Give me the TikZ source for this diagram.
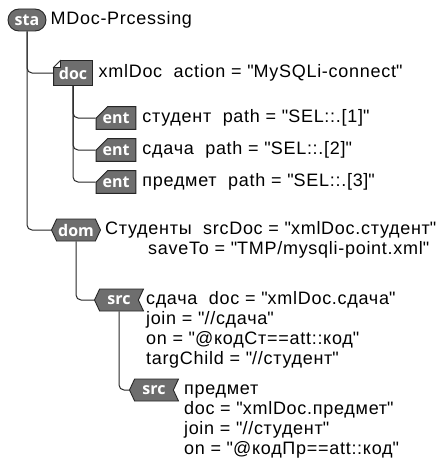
\documentclass[tikz,border=0pt]{standalone}
\usepackage{fontspec}
\setmainfont{Liberation Sans}[LetterSpace=4]
\newfontfamily\tagfont{Open Sans}
\usepackage{tikz}
\usetikzlibrary{positioning,shapes.misc,shapes.symbols,backgrounds}

% straight double quote, loaded without the TeX mapping
\font\dqfont="Liberation Sans" at 18pt
\newcommand{\dq}{{\dqfont\char34}}

\begin{document}
\begin{tikzpicture}[x=1pt, y=-1pt,
  tag/.style    = {draw=black!85, fill=black!57, text=white, line width=0.9pt,
                   minimum height=22pt, inner xsep=1pt, inner ysep=0pt,
                   font=\tagfont\bfseries\fontsize{16}{16}\selectfont},
  statag/.style = {tag, rounded rectangle, minimum width=40pt},
  doctag/.style = {tag, rectangle, draw=none, fill=none, minimum width=38pt,
                   minimum height=24pt},
  enttag/.style = {tag, chamfered rectangle, chamfered rectangle corners=north west,
                   chamfered rectangle sep=6pt, minimum width=37pt},
  domtag/.style = {tag, signal, signal to=west and east, signal pointer angle=130,
                   minimum width=49pt},
  srctag/.style = {tag, signal, signal to=west, signal from=east,
                   signal pointer angle=130, minimum width=49pt},
  docbox/.style = {draw=black!85, fill=black!57, line width=0.9pt},
  fold/.style   = {draw=black!85, line width=0.8pt, fill=white},
  lbl/.style    = {anchor=north west, inner sep=0pt, align=left, yshift=-2pt,
                   font=\fontsize{18}{20}\selectfont},
  conn/.style   = {draw=black!85, line width=1pt, rounded corners=5pt}
]
\useasboundingbox (0,0) rectangle (440,460);

% -- tags --
\node[statag] (sta)  at (27,20)   {sta};
\node[doctag] (doc)  at (73,73)   {doc};
\node[enttag] (ent1) at (116,118) {ent};
\node[enttag] (ent2) at (116,150) {ent};
\node[enttag] (ent3) at (116,182) {ent};
\node[domtag] (dom)  at (76,230)  {dom};
\node[srctag] (src1) at (119,300) {src};
\node[srctag] (src2) at (154,390) {src};

% -- doc box with folded corner --
\begin{scope}[on background layer]
  \filldraw[docbox] ([xshift=7pt]doc.north west) -- (doc.north east)
    -- (doc.south east) -- (doc.south west) -- ([yshift=-7pt]doc.north west) -- cycle;
  \filldraw[fold] ([xshift=7pt]doc.north west) -- ([yshift=-7pt]doc.north west)
    -- ([shift={(7pt,-7pt)}]doc.north west) -- cycle;
\end{scope}

% -- texts --
\node[lbl, xshift=4pt]  (staLbl)  at (sta.east |- sta.north)   {\strut MDoc-Prcessing};
\node[lbl, xshift=6pt, yshift=-1pt] (docLbl) at (doc.east |- doc.north)
     {\strut xmlDoc\ \ action = \dq MySQLi-connect\dq};
\node[lbl, xshift=6pt]  (ent1Lbl) at (ent1.east |- ent1.north) {\strut студент\ \ path = \dq SEL::.[1]\dq};
\node[lbl, xshift=6pt]  (ent2Lbl) at (ent2.east |- ent2.north) {\strut сдача\ \ path = \dq SEL::.[2]\dq};
\node[lbl, xshift=6pt]  (ent3Lbl) at (ent3.east |- ent3.north) {\strut предмет\ \ path = \dq SEL::.[3]\dq};
\node[lbl, xshift=4pt]  (domLbl)  at (dom.east |- dom.north)
     {\strut Студенты\ \ srcDoc = \dq xmlDoc.студент\dq\\
      \hspace*{43pt}saveTo = \dq TMP/mysqli-point.xml\dq};
\node[lbl, xshift=7pt]  (src1Lbl) at (src1.east |- src1.north)
     {\strut сдача\ \ doc = \dq xmlDoc.сдача\dq\\
      join = \dq//сдача\dq\\
      on = \dq@кодСт==att::код\dq\\
      targChild = \dq//студент\dq};
\node[lbl, xshift=10pt] (src2Lbl) at (src2.east |- src2.north)
     {\strut предмет\\
      doc = \dq xmlDoc.предмет\dq\\
      join = \dq//студент\dq\\
      on = \dq@кодПр==att::код\dq};

% -- tree lines --
\draw[conn] (sta.south)  |- (doc.west);
\draw[conn] (sta.south)  |- (dom.west);
\draw[conn] (doc.south)  |- (ent1.west);
\draw[conn] (doc.south)  |- (ent2.west);
\draw[conn] (doc.south)  |- (ent3.west);
\draw[conn] (dom.south)  |- (src1.west);
\draw[conn] (src1.south) |- (src2.west);

\end{tikzpicture}
\end{document}
